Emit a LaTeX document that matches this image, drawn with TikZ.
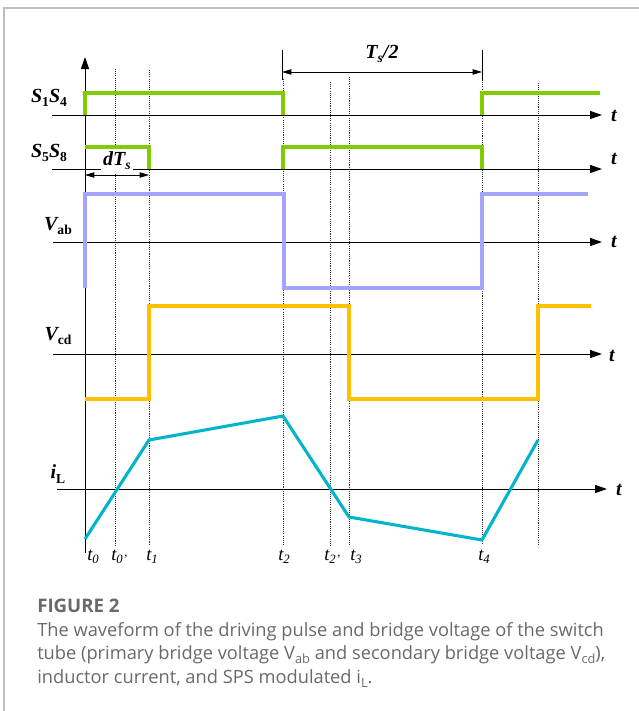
\documentclass[tikz,border=0pt]{standalone}
\usepackage{fontspec}
\setmainfont{Liberation Serif}
\newfontfamily\capfont{Open Sans}
\usetikzlibrary{arrows.meta}
\definecolor{pulsegreen}{RGB}{128,204,0}
\definecolor{vablue}{RGB}{164,164,255}
\definecolor{vcdorange}{RGB}{255,192,0}
\definecolor{ilcyan}{RGB}{0,180,204}
\definecolor{capgray}{RGB}{105,105,105}
\definecolor{framegray}{RGB}{190,190,190}
\newcommand{\dn}[1]{\raisebox{-0.45ex}{\scalebox{0.68}{#1}}}
\newcommand{\csub}[1]{\raisebox{-0.45ex}{\scalebox{0.7}{#1}}}

\begin{document}
\begin{tikzpicture}[x=0.75pt,y=-0.75pt,line join=miter,
  axis/.style={line width=0.75pt,-{Triangle[length=9pt,width=6pt]}},
  wave/.style={line width=2.3pt},
  guide/.style={line width=0.55pt,black!80,dash pattern=on 0.8pt off 0.8pt},
  dim/.style={line width=0.6pt,{Triangle[length=7pt,width=4pt]}-{Triangle[length=7pt,width=4pt]}},
  lab/.style={inner sep=0pt,font=\fontsize{15}{15}\selectfont\bfseries\itshape},
  tlab/.style={inner sep=0pt,anchor=base west,font=\fontsize{14}{14}\selectfont\itshape}]
  \useasboundingbox (0,0) rectangle (639,711);
  % 外框
  \draw[framegray,line width=0.8pt] (4,711) -- (4,8) -- (639,8);
  % 时刻虚线
  \foreach \x/\y in {115/69,149/70,283/79,330/82,349/77,482/80,538/83}
    \draw[guide] (\x,\y) -- (\x,545);
  % Ts/2 标注
  \draw[line width=0.75pt] (282,50) -- (282,80);
  \draw[line width=0.75pt] (482,50) -- (482,80);
  \coordinate (h0) at (282,72);
  \coordinate (h1) at (482,72);
  \draw[dim] (h0) -- (h1);
  \node[lab] (half) at (382,54) {T\dn{s}/2};
  % 纵轴
  \draw[axis] (85,553) -- (85,57);
  % 横轴
  \draw[axis] (52,115) -- (602,115);
  \node[lab] (tS14) at (614,116) {t};
  \draw[axis] (52,169) -- (602,169);
  \node[lab] (tS58) at (614,159) {t};
  \draw[axis] (53,242) -- (602,242);
  \node[lab] (tVab) at (614,242) {t};
  \draw[axis] (53,354) -- (602,354);
  \node[lab] (tVcd) at (612,356) {t};
  \draw[axis] (57,489) -- (607,489);
  \node[lab] (tiL) at (619,490) {t};
  % 驱动脉冲
  \draw[wave,pulsegreen] (85,115) -- (85,93) -- (283,93) -- (283,115);
  \draw[wave,pulsegreen] (482,115) -- (482,93) -- (600,93);
  \draw[wave,pulsegreen] (85,147) -- (149,147) -- (149,169);
  \draw[wave,pulsegreen] (283,169) -- (283,147) -- (482,147) -- (482,169);
  % dTs
  \node[lab,fill=white,inner sep=1.5pt] (dts) at (117,161) {dT\dn{s}};
  \coordinate (d0) at (85,175);
  \coordinate (d1) at (149,175);
  \draw[dim] (d0) -- (d1);
  % 桥电压
  \draw[wave,vablue] (85,288) -- (85,194) -- (284,194) -- (284,288) -- (482,288) -- (482,194) -- (588,194);
  \draw[wave,vcdorange] (85,399) -- (149,399) -- (149,306) -- (349,306) -- (349,399) -- (538,399) -- (538,306) -- (591,306);
  % 电感电流
  \draw[wave,ilcyan] (85,539) -- (149,440) -- (283,416) -- (349,517) -- (482,540) -- (538,440);
  % 波形名称
  \node[lab] (S14) at (49,98) {S\dn{\upshape 1}S\dn{\upshape 4}};
  \node[lab] (S58) at (49,153) {S\dn{\upshape 5}S\dn{\upshape 8}};
  \node[lab] (Vab) at (58,226) {V\dn{\upshape ab}};
  \node[lab] (Vcd) at (58,336) {V\dn{\upshape cd}};
  \node[lab] (iL) at (58,474) {i\dn{\upshape L}};
  % 时刻
  \node[tlab] (t0) at (87,560) {t\dn{0}};
  \node[tlab] (t0p) at (111,560) {t\dn{0'}};
  \node[tlab] (t1) at (146,560) {t\dn{1}};
  \node[tlab] (t2) at (278,560) {t\dn{2}};
  \node[tlab] (t2p) at (324,560) {t\dn{2'}};
  \node[tlab] (t3) at (350,560) {t\dn{3}};
  \node[tlab] (t4) at (478,560) {t\dn{4}};
  % 图注
  \node[anchor=base west,inner sep=0pt,text=capgray,font=\capfont\fontsize{14}{14}\selectfont\bfseries] (fig) at (37,612) {FIGURE 2};
  \node[anchor=base west,inner sep=0pt,align=left,text=capgray,font=\capfont\fontsize{13.7}{17.6}\selectfont] (cap) at (37,683)
    {The waveform of the driving pulse and bridge voltage of the switch\\
     tube (primary bridge voltage V\csub{ab} and secondary bridge voltage V\csub{cd}),\\
     inductor current, and SPS modulated i\csub{L}.};
\end{tikzpicture}
\end{document}
